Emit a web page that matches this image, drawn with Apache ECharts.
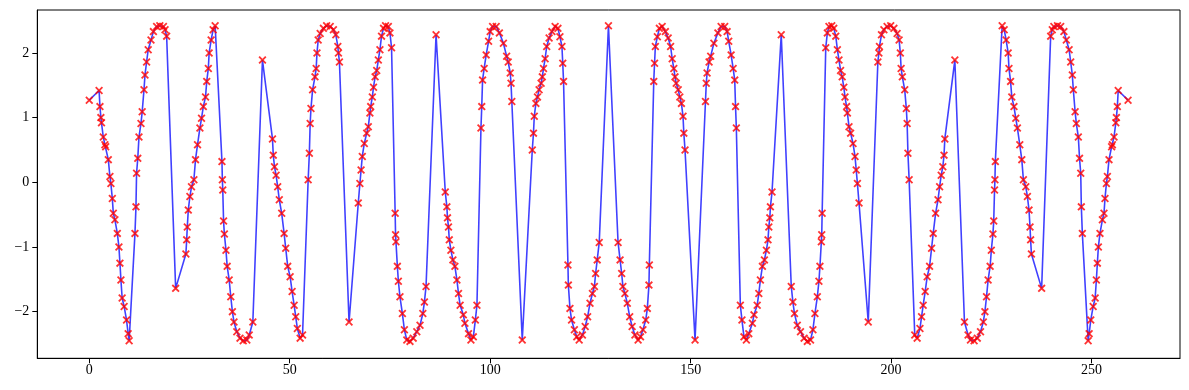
<!DOCTYPE html>
<html>
<head>
<meta charset="utf-8">
<script src="https://cdn.jsdelivr.net/npm/echarts@6/dist/echarts.min.js"></script>
<style>
html,body{margin:0;padding:0;background:#fff;}
#chart{width:1189px;height:390px;}
</style>
</head>
<body>
<div id="chart"></div>
<script>
var xValues = [
0.0,2.45,2.67,2.9,3.05,3.5,3.9,4.1,4.75,5.15,5.4,5.75,6.0,6.4,7.0,7.4,7.65,7.9,8.2,8.7,9.3,9.7,9.95,
11.4,11.65,11.8,12.1,12.4,12.9,13.2,13.65,13.9,14.3,14.7,15.4,16.0,16.8,17.6,18.5,18.9,19.3,
21.55,24.1,24.3,24.45,24.7,25.1,25.5,26.1,26.5,27.0,27.6,28.0,28.45,29.0,29.3,29.7,29.9,30.4,30.9,31.4,
33.1,33.2,33.3,33.5,33.7,34.1,34.4,34.9,35.3,35.7,36.1,36.8,37.6,38.4,39.3,39.9,40.8,
43.2,45.7,45.9,46.2,46.6,47.0,47.4,48.0,48.6,49.0,49.5,50.1,50.6,51.1,51.5,51.9,52.6,53.2,
54.6,54.9,55.1,55.3,55.7,56.3,56.6,56.8,57.1,57.6,58.4,59.2,60.1,60.9,61.5,62.0,62.15,62.4,
64.8,67.1,67.5,67.8,68.1,68.6,69.2,69.6,70.0,70.2,70.6,70.9,71.3,71.7,72.1,72.5,72.9,73.4,73.9,74.6,75.0,75.4,
76.3,76.4,76.5,76.85,77.1,77.5,78.1,78.6,79.2,80.0,80.8,81.7,82.5,83.2,83.6,84.0,
86.5,88.8,89.2,89.35,89.6,89.8,90.2,90.7,91.2,91.7,92.1,92.5,93.3,93.7,94.6,95.2,95.8,96.3,96.7,
97.7,97.9,98.1,98.5,99.0,99.6,100.0,100.6,101.5,102.3,103.3,104.1,104.5,105.0,105.2,105.4,
108.0,110.5,110.8,111.0,111.4,111.8,112.2,112.7,113.0,113.3,113.7,114.1,114.7,115.4,116.2,116.9,117.4,117.9,118.1,118.3,
119.4,119.5,119.9,120.3,121.0,121.6,122.2,123.0,123.7,124.3,124.9,125.5,126.0,126.3,126.7,127.2,
129.5,
131.9,132.4,132.8,133.1,133.6,134.2,134.8,135.4,136.1,136.9,137.5,138.1,138.8,139.2,139.6,139.7,
140.8,141.0,141.2,141.7,142.2,142.9,143.7,144.4,145.0,145.4,145.8,146.1,146.4,146.9,147.3,147.7,148.1,148.3,148.6,
151.1,153.7,153.9,154.1,154.6,155.0,155.8,156.8,157.6,158.5,159.1,159.5,160.1,160.6,161.0,161.2,161.4,
162.4,162.8,163.3,163.9,164.5,165.4,165.8,166.6,167.0,167.4,167.9,168.4,168.9,169.3,169.5,169.75,169.9,170.3,
172.6,175.1,175.5,175.9,176.6,177.4,178.3,179.1,179.9,180.5,181.0,181.6,182.0,182.25,182.6,182.7,182.8,
183.7,184.1,184.5,185.2,185.7,186.2,186.6,187.0,187.4,187.8,188.2,188.5,188.9,189.1,189.5,189.9,190.5,191.0,191.3,191.6,192.0,
194.3,196.7,196.95,197.1,197.6,198.2,199.0,199.9,200.7,201.5,202.0,202.3,202.5,202.8,203.4,203.8,204.0,204.2,204.5,
205.9,206.5,207.2,207.6,208.0,208.5,209.0,209.6,210.1,210.5,211.1,211.7,212.1,212.5,212.9,213.2,213.4,
215.9,218.3,219.2,219.8,220.7,221.5,222.3,223.0,223.4,223.8,224.2,224.7,225.0,225.4,225.6,225.8,225.9,226.0,
227.7,228.2,228.7,229.2,229.4,229.8,230.1,230.65,231.1,231.5,232.1,232.6,233.0,233.6,234.0,234.4,234.65,234.8,235.0,
237.55,239.8,240.2,240.6,241.5,242.3,243.1,243.7,244.4,244.8,245.2,245.45,245.9,246.2,246.7,247.0,247.3,247.45,247.7,
249.15,249.4,249.8,250.4,250.9,251.2,251.45,251.7,252.1,252.7,253.1,253.35,253.7,253.95,254.35,255.0,255.2,255.6,256.05,256.2,256.43,256.65,259.1
];
var yValues = [
1.27,1.42,1.17,1.0,0.92,0.70,0.58,0.55,0.35,0.09,-0.02,-0.25,-0.48,-0.58,-0.79,-1.0,-1.25,-1.51,-1.79,-1.92,-2.13,-2.34,-2.45,
-0.79,-0.38,0.14,0.37,0.70,0.91,1.09,1.43,1.66,1.86,2.05,2.20,2.33,2.41,2.42,2.41,2.36,2.26,
-1.64,-1.11,-0.89,-0.69,-0.43,-0.22,-0.07,0.04,0.35,0.58,0.84,0.99,1.17,1.32,1.56,1.76,2.0,2.2,2.36,2.42,
0.32,0.04,-0.12,-0.60,-0.80,-1.05,-1.30,-1.51,-1.77,-2.0,-2.16,-2.31,-2.41,-2.45,-2.44,-2.36,-2.16,
1.89,0.67,0.42,0.24,0.11,-0.07,-0.27,-0.48,-0.79,-1.02,-1.30,-1.46,-1.69,-1.90,-2.08,-2.26,-2.41,-2.36,
0.04,0.45,0.91,1.14,1.43,1.63,1.76,2.0,2.2,2.30,2.38,2.42,2.41,2.36,2.28,2.10,2.0,1.86,
-2.16,-0.32,-0.02,0.19,0.40,0.60,0.76,0.86,1.07,1.17,1.32,1.47,1.63,1.73,1.89,2.05,2.26,2.38,2.42,2.41,2.31,2.08,
-0.48,-0.81,-0.92,-1.30,-1.53,-1.77,-2.03,-2.28,-2.44,-2.46,-2.41,-2.31,-2.21,-2.03,-1.85,-1.61,
2.28,-0.15,-0.38,-0.55,-0.69,-0.89,-1.05,-1.20,-1.30,-1.51,-1.72,-1.90,-2.05,-2.18,-2.34,-2.44,-2.39,-2.13,-1.90,
0.84,1.17,1.58,1.76,1.97,2.18,2.33,2.41,2.41,2.31,2.15,1.95,1.86,1.69,1.53,1.25,
-2.44,0.50,0.76,1.02,1.22,1.32,1.43,1.53,1.63,1.76,1.91,2.10,2.23,2.33,2.41,2.38,2.25,2.10,1.84,1.56,
-1.28,-1.59,-1.95,-2.13,-2.28,-2.39,-2.44,-2.36,-2.23,-2.08,-1.87,-1.72,-1.61,-1.41,-1.20,-0.93,
2.42,
-0.93,-1.20,-1.41,-1.61,-1.72,-1.87,-2.08,-2.23,-2.36,-2.44,-2.39,-2.28,-2.13,-1.95,-1.59,-1.28,
1.56,1.84,2.10,2.25,2.38,2.41,2.33,2.23,2.10,1.91,1.76,1.63,1.53,1.43,1.32,1.22,1.02,0.76,0.50,
-2.44,1.25,1.53,1.69,1.86,1.95,2.15,2.31,2.41,2.41,2.33,2.18,1.97,1.76,1.58,1.17,0.84,
-1.90,-2.13,-2.39,-2.44,-2.34,-2.18,-2.05,-1.90,-1.72,-1.51,-1.30,-1.20,-1.05,-0.89,-0.69,-0.55,-0.38,-0.15,
2.28,-1.61,-1.85,-2.03,-2.21,-2.31,-2.41,-2.46,-2.44,-2.28,-2.03,-1.77,-1.53,-1.30,-0.92,-0.81,-0.48,
2.08,2.31,2.41,2.42,2.38,2.26,2.05,1.89,1.73,1.63,1.47,1.32,1.17,1.07,0.86,0.76,0.60,0.40,0.19,-0.02,-0.32,
-2.16,1.86,2.0,2.10,2.28,2.36,2.41,2.42,2.38,2.30,2.2,2.0,1.76,1.63,1.43,1.14,0.91,0.45,0.04,
-2.36,-2.41,-2.26,-2.08,-1.90,-1.69,-1.46,-1.30,-1.02,-0.79,-0.48,-0.27,-0.07,0.11,0.24,0.42,0.67,
1.89,-2.16,-2.36,-2.44,-2.45,-2.41,-2.31,-2.16,-2.0,-1.77,-1.51,-1.30,-1.05,-0.80,-0.60,-0.12,0.04,0.32,
2.42,2.36,2.2,2.0,1.76,1.56,1.32,1.17,0.99,0.84,0.58,0.35,0.04,-0.07,-0.22,-0.43,-0.69,-0.89,-1.11,
-1.64,2.26,2.36,2.41,2.42,2.41,2.33,2.20,2.05,1.86,1.66,1.43,1.09,0.91,0.70,0.37,0.14,-0.38,-0.79,
-2.45,-2.34,-2.13,-1.92,-1.79,-1.51,-1.25,-1.0,-0.79,-0.58,-0.48,-0.25,-0.02,0.09,0.35,0.55,0.58,0.70,0.92,1.0,1.17,1.42,1.27
];
var xTickValues = [0, 50, 100, 150, 200, 250];
var yTickValues = [-2, -1, 0, 1, 2];

var seriesData = xValues.map(function (x, i) { return [x, yValues[i]]; });
var xMarker = 'path://M0,1.6L1.6,0L5,3.4L8.4,0L10,1.6L6.6,5L10,8.4L8.4,10L5,6.6L1.6,10L0,8.4L3.4,5Z';
var fontFam = '"Liberation Serif", "DejaVu Serif", serif';
function fmt(v) { return v < 0 ? '\u2212' + Math.abs(v) : String(v); }

var chart = echarts.init(document.getElementById('chart'), null, { renderer: 'canvas' });
chart.setOption({
  animation: false,
  backgroundColor: '#ffffff',
  grid: { left: 37.3, right: 9, top: 10, bottom: 31.7, show: true, borderColor: '#000', borderWidth: 1, containLabel: false },
  xAxis: {
    type: 'value', min: -12.96, max: 272.06,
    splitLine: { show: false },
    axisLine: { show: true, onZero: false, lineStyle: { color: '#000', width: 1 } },
    axisTick: { show: true, length: 5, lineStyle: { color: '#000', width: 1 }, customValues: xTickValues },
    axisLabel: { show: true, customValues: xTickValues, margin: 5, color: '#000', fontFamily: fontFam, fontSize: 14, formatter: fmt }
  },
  yAxis: {
    type: 'value', min: -2.7215, max: 2.664,
    splitLine: { show: false },
    axisLine: { show: true, onZero: false, lineStyle: { color: '#000', width: 1 } },
    axisTick: { show: true, length: 5, lineStyle: { color: '#000', width: 1 }, customValues: yTickValues },
    axisLabel: { show: true, customValues: yTickValues, margin: 8, color: '#000', fontFamily: fontFam, fontSize: 14, formatter: fmt }
  },
  series: [{
    type: 'line',
    data: seriesData,
    showSymbol: true,
    showAllSymbol: true,
    symbol: xMarker,
    symbolSize: 8,
    lineStyle: { color: 'rgba(0,0,255,0.75)', width: 1.6 },
    itemStyle: { color: 'rgba(255,0,0,0.8)' },
    z: 2
  }]
});
</script>
</body>
</html>
